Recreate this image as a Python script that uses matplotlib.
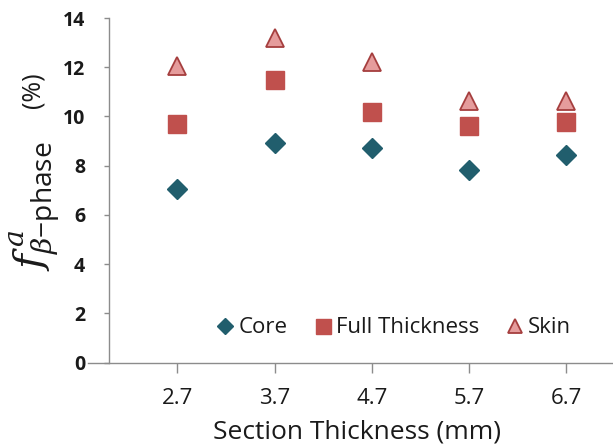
import matplotlib
matplotlib.use("Agg")
import matplotlib.pyplot as plt

# Section thickness (mm) and beta-phase fraction (%) per region
thickness = [2.7, 3.7, 4.7, 5.7, 6.7]
core = [7.05, 8.90, 8.72, 7.84, 8.45]
full_thickness = [9.70, 11.50, 10.19, 9.60, 9.78]
skin = [12.05, 13.17, 12.22, 10.63, 10.63]
y_ticks = [0, 2, 4, 6, 8, 10, 12, 14]

plt.rcParams["font.family"] = ["Open Sans", "DejaVu Sans"]
plt.rcParams["mathtext.fontset"] = "custom"
plt.rcParams["mathtext.rm"] = "Open Sans"
plt.rcParams["mathtext.sf"] = "Open Sans"
plt.rcParams["mathtext.it"] = "DejaVu Serif:italic"

W, H = 613, 445
fig = plt.figure(figsize=(W / 100, H / 100), dpi=100)
ax = fig.add_axes([88 / W, (H - 362.5) / H, (W - 88) / W, 344.5 / H])

teal = "#215E6D"
red = "#C0504D"
pink_fill = "#E59C9C"
pink_edge = "#A53E3E"
ink = "#1a1a1a"

ax.plot(thickness, core, linestyle="none", marker="D", ms=10, color=teal,
        markeredgecolor=teal, label="Core")
ax.plot(thickness, full_thickness, linestyle="none", marker="s", ms=13.5, color=red,
        markeredgecolor=red, label="Full Thickness")
ax.plot(thickness, skin, linestyle="none", marker="^", ms=13, color=pink_fill,
        markeredgecolor=pink_edge, markeredgewidth=1.3, label="Skin")

ax.set_xlim(1.78, 7.18)
ax.set_ylim(0, 14)
ax.set_xticks(thickness)
ax.set_xticklabels([f"{t:.1f}" for t in thickness])
ax.set_yticks(y_ticks)

spine_color = "#8C8C8C"
for side in ("top", "right"):
    ax.spines[side].set_visible(False)
ax.spines["left"].set_position(("data", 2.0))
for side in ("left", "bottom"):
    ax.spines[side].set_color(spine_color)
    ax.spines[side].set_linewidth(1.0)

ax.tick_params(axis="x", direction="out", length=7, width=1.0, color=spine_color,
               pad=11, labelsize=16, labelcolor=ink)
ax.tick_params(axis="y", direction="out", length=3.5, width=1.0, color=spine_color,
               pad=14, labelsize=14, labelcolor=ink)
for lbl in ax.get_yticklabels():
    lbl.set_fontweight("bold")

ax.set_xlabel("Section Thickness (mm)", fontsize=19, color=ink)
ax.xaxis.set_label_coords(0.513, -0.165)

# y-axis title: symbol part and unit part
fig.text(35 / W, 1 - 206 / H, r"$f^{\,a}_{\beta\mathrm{-phase}}$", rotation=90,
         ha="center", va="center", fontsize=29, color=ink)
fig.text(33 / W, 1 - 90 / H, "(%)", rotation=90, ha="center", va="center",
         fontsize=18, color=ink)

leg = ax.legend(loc="lower center", bbox_to_anchor=(0.58, 0.012), ncol=3, frameon=False,
                fontsize=16, handletextpad=0.1, columnspacing=1.1, markerscale=0.8,
                handlelength=1.0)
for t in leg.get_texts():
    t.set_color(ink)

fig.savefig("out.png", dpi=100)
